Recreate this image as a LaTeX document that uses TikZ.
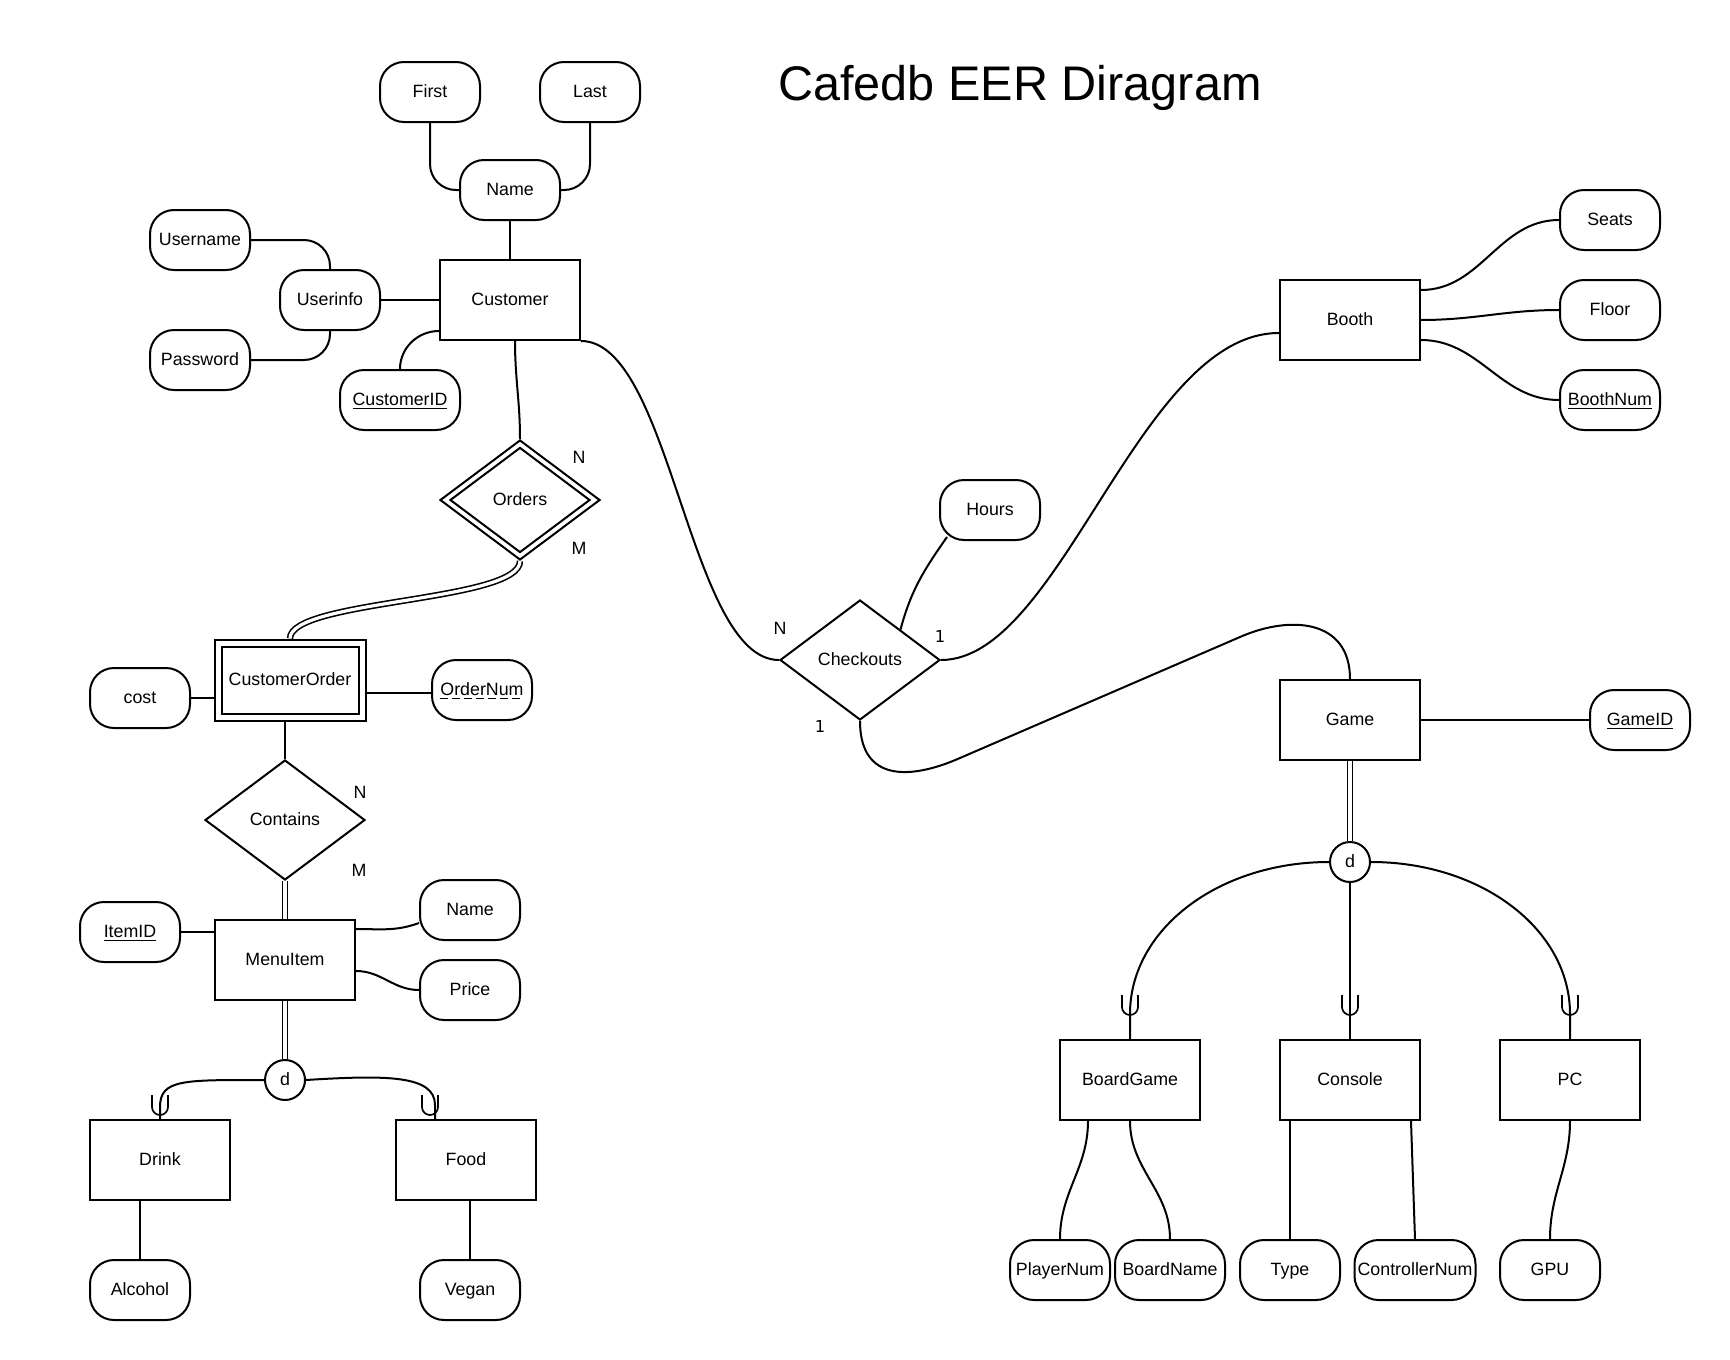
\documentclass[tikz,border=0pt]{standalone}
\usepackage{fontspec}
\setmainfont{Liberation Sans}
\newfontfamily\onefont{DejaVu Sans}
\usetikzlibrary{shapes.geometric}
\newcommand\cupmarkat[1]{\draw[cupmark] #1 ++(-4pt,5pt) -- ++(0,-6pt) arc[start angle=180,end angle=360,radius=4pt] -- ++(0,6pt);}
\begin{document}
\begin{tikzpicture}[x=0.5pt,y=-0.5pt,
  every node/.style={font=\fontsize{8.9}{10.7}\selectfont},
  txt/.style={text height=0.75em,text depth=0.25em},
  ent/.style={draw,rectangle,txt,line width=1pt,minimum width=70pt,minimum height=40pt,inner sep=0pt},
  attr/.style={draw,rectangle,txt,rounded corners=12pt,line width=1pt,minimum width=50pt,minimum height=30pt,inner sep=1pt},
  rel/.style={draw,diamond,txt,line width=1pt,minimum width=80pt,minimum height=60pt,inner sep=0pt},
  dnode/.style={draw,circle,txt,line width=1pt,minimum size=20pt,inner sep=0pt},
  conn/.style={line width=1pt},
  dbl/.style={double,double distance=1.6pt,line width=0.8pt},
  card/.style={inner sep=0pt},
  onecard/.style={inner sep=0pt,font=\onefont\fontsize{8.2}{10}\selectfont},
  cupmark/.style={line width=0.85pt}
]
\useasboundingbox (0,0) rectangle (1730,1360);

% title
\node[font=\fontsize{24.3}{29}\selectfont,anchor=base,inner sep=0pt] (title) at (1020,100) {Cafedb EER Diragram};

% Customer cluster
\node[attr] (first) at (430,92) {First};
\node[attr] (last) at (590,92) {Last};
\node[attr] (name) at (510,190) {Name};
\node[attr] (username) at (200,240) {Username};
\node[attr] (userinfo) at (330,300) {Userinfo};
\node[attr] (password) at (200,360) {Password};
\node[ent] (customer) at (510,300) {Customer};
\node[attr,minimum width=60pt] (customerid) at (400,400) {\underline{CustomerID}};

% Orders
\node[rel] (orders) at (520,500) {Orders};
\node[draw,diamond,line width=1pt,minimum width=70pt,minimum height=52.5pt,inner sep=0pt] (ordersin) at (orders) {};
\node[card] (ordN) at (579,457) {N};
\node[card] (ordM) at (579,548) {M};

% CustomerOrder
\node[ent,minimum width=75.5pt,minimum height=40.5pt] (co) at (290,680) {CustomerOrder};
\node[ent,minimum width=68.5pt,minimum height=33.5pt] (coin) at (co) {};
\node[attr] (cost) at (140,698) {cost};
\node[attr] (ordernum) at (482,690) {};
\node[txt,inner sep=0pt] (ordernumtxt) at (ordernum) {OrderNum};
\draw[line width=0.6pt,dash pattern=on 4pt off 2pt] ([yshift=-1.8pt]ordernumtxt.base west) -- ([yshift=-1.8pt]ordernumtxt.base east);

% Contains / MenuItem
\node[rel] (contains) at (285,820) {Contains};
\node[card] (conN) at (360,792) {N};
\node[card] (conM) at (359,870) {M};
\node[attr] (itemid) at (130,932) {\underline{ItemID}};
\node[ent] (menuitem) at (285,960) {MenuItem};
\node[attr] (mname) at (470,910) {Name};
\node[attr] (price) at (470,990) {Price};
\node[dnode] (d1) at (285,1080) {d};
\node[ent] (drink) at (160,1160) {Drink};
\node[ent] (food) at (466,1160) {Food};
\node[attr] (alcohol) at (140,1290) {Alcohol};
\node[attr] (vegan) at (470,1290) {Vegan};

% Checkouts / Booth
\node[rel] (checkouts) at (860,660) {Checkouts};
\node[card] (chkN) at (780,628) {N};
\node[onecard] (chk1a) at (940,637) {1};
\node[onecard] (chk1b) at (820,727) {1};
\node[attr] (hours) at (990,510) {Hours};
\node[ent] (booth) at (1350,320) {Booth};
\node[attr] (seats) at (1610,220) {Seats};
\node[attr] (floor) at (1610,310) {Floor};
\node[attr] (boothnum) at (1610,400) {\underline{BoothNum}};

% Game
\node[ent] (game) at (1350,720) {Game};
\node[attr] (gameid) at (1640,720) {\underline{GameID}};
\node[dnode] (d2) at (1350,862) {d};
\node[ent] (boardgame) at (1130,1080) {BoardGame};
\node[ent] (console) at (1350,1080) {Console};
\node[ent] (pc) at (1570,1080) {PC};
\node[attr] (playernum) at (1060,1270) {PlayerNum};
\node[attr,minimum width=55pt] (boardname) at (1170,1270) {BoardName};
\node[attr] (type) at (1290,1270) {Type};
\node[attr,minimum width=60.5pt] (controllernum) at (1415,1270) {ControllerNum};
\node[attr] (gpu) at (1550,1270) {GPU};

% ---- connectors ----
\draw[conn,rounded corners=13pt] (first.south) |- (name.west);
\draw[conn,rounded corners=13pt] (last.south) |- (name.east);
\draw[conn] (name.south) -- (customer.north);
\draw[conn,rounded corners=13pt] (username.east) -| (userinfo.north);
\draw[conn,rounded corners=13pt] (password.east) -| (userinfo.south);
\draw[conn] (userinfo.east) -- (customer.west);
\draw[conn] (customerid.north) to[out=90,in=180] ([yshift=5pt]customer.south west);
\draw[conn] ([xshift=2.5pt]customer.south) to[out=-90,in=90] (orders.north);
\draw[dbl] (orders.south) .. controls +(0,41) and +(0,-39) .. (co.north);
\draw[conn] (cost.east) -- (cost.east -| co.west);
\draw[conn] ([yshift=-6.5pt]co.east) -- ([yshift=-6.5pt]co.east -| ordernum.west);
\draw[conn] (contains.north) -- (contains.north |- co.south);
\draw[dbl] (contains.south) -- (menuitem.north);
\draw[conn] (itemid.east) -- (itemid.east -| menuitem.west);
\draw[conn] ([yshift=15.5pt]menuitem.east) to[out=0,in=200] ([yshift=-6.5pt]mname.west);
\draw[conn] ([yshift=-5.5pt]menuitem.east) to[out=0,in=180] (price.west);
\draw[dbl] (menuitem.south) -- (d1.north);
\draw[conn] (d1.west) .. controls +(-80,0) and +(0,-28) .. ([yshift=6pt]drink.north) -- (drink.north);
\draw[conn] (d1.east) .. controls +(80,-5) and +(0,-30) .. ([xshift=-15.5pt,yshift=7pt]food.north) -- ([xshift=-15.5pt]food.north);
\cupmarkat{([yshift=7pt]drink.north)}
\cupmarkat{([xshift=-18pt,yshift=7pt]food.north)}
\draw[conn] (alcohol.north) -- (alcohol.north |- drink.south);
\draw[conn] (vegan.north) -- (vegan.north |- food.south);

\draw[conn] (customer.south east) .. controls +(90,0) and +(-90,0) .. (checkouts.west);
\draw[conn] (checkouts.north east) to[out=75,in=235] ([xshift=4pt,yshift=2pt]hours.south west);
\draw[conn] (checkouts.east) .. controls +(120,0) and +(-140,0) .. ([yshift=-6.5pt]booth.west);
\draw[conn] (checkouts.south) .. controls +(0,61) and +(-50,22) .. (960,758) -- (1240,637) .. controls +(50,-22) and +(0,-60) .. (game.north);
\draw[conn] ([yshift=15pt]booth.east) to[out=0,in=180] (seats.west);
\draw[conn] (booth.east) to[out=0,in=180] (floor.west);
\draw[conn] ([yshift=-10pt]booth.east) to[out=0,in=180] (boothnum.west);

\draw[conn] (game.east) -- (gameid.west);
\draw[dbl] (game.south) -- (d2.north);
\draw[conn] (d2.west) .. controls +(-110,0) and +(0,-85) .. ([yshift=12.5pt]boardgame.north) -- (boardgame.north);
\draw[conn] (d2.south) -- (console.north);
\draw[conn] (d2.east) .. controls +(110,0) and +(0,-85) .. ([yshift=12.5pt]pc.north) -- (pc.north);
\cupmarkat{([yshift=17pt]boardgame.north)}
\cupmarkat{([yshift=17pt]console.north)}
\cupmarkat{([yshift=17pt]pc.north)}
\draw[conn] ([xshift=-21pt]boardgame.south) to[out=-90,in=90] (playernum.north);
\draw[conn] (boardgame.south) to[out=-90,in=90] (boardname.north);
\draw[conn] (type.north) -- (type.north |- console.south);
\draw[conn] ([xshift=30.5pt]console.south) -- (controllernum.north);
\draw[conn] (pc.south) to[out=-90,in=90] (gpu.north);
\end{tikzpicture}
\end{document}
